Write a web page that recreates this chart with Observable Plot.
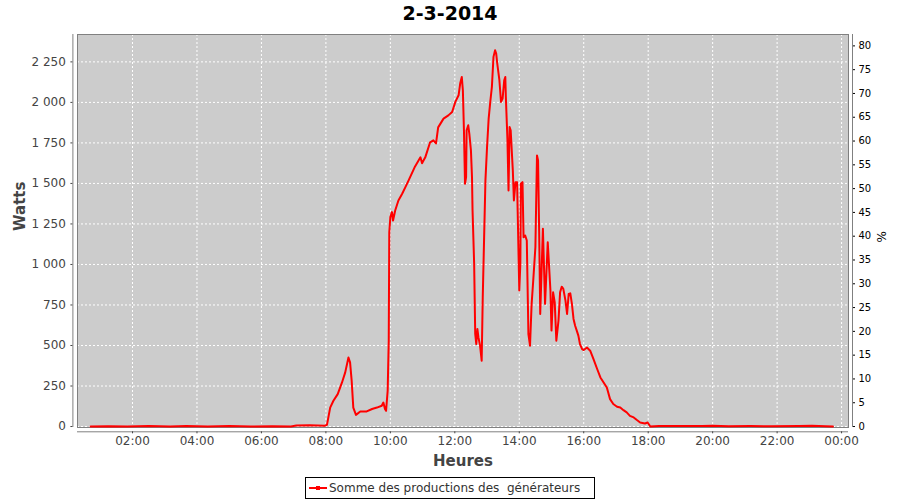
<!DOCTYPE html>
<html>
<head>
<meta charset="utf-8">
<script src="https://cdn.jsdelivr.net/npm/d3@7"></script>
<script src="https://cdn.jsdelivr.net/npm/@observablehq/plot@0.6"></script>
<style>
  body { margin: 0; background: #fff; }
  #wrap { position: relative; width: 900px; height: 500px; font-family: "DejaVu Sans", sans-serif; }
  #title { position: absolute; left: 0; top: 0; width: 900px; text-align: center; font-weight: bold; font-size: 19px; line-height: 26px; color: #000; }
  #legend { position: absolute; left: 305px; top: 477px; width: 288px; height: 20px; border: 1px solid #000; background: #fff; display: flex; align-items: center; font-size: 12px; color: #333; white-space: pre; }
  #legend svg { margin-left: 3px; margin-right: 2px; }
  #chart { position: absolute; left: 0; top: 0; }
</style>
</head>
<body>
<div id="wrap">
  <div id="chart"></div>
  <div id="title"></div>
  <div id="legend"></div>
</div>
<script>
// ---- data ----
const chartTitle = "2-3-2014";
const seriesName = "Somme des productions des  générateurs";
const yLabelText = "Watts";
const xLabelText = "Heures";
const y2LabelText = "%";

const times = [
  "00:42","01:15","01:50","02:30","03:10","03:40","04:20","05:00","05:40","06:20","06:55",
  "07:05","07:30","07:58","08:02","08:08","08:14","08:22","08:30","08:36","08:42","08:45",
  "08:48","08:51","08:56","09:04","09:16","09:26","09:35","09:44","09:47","09:50","09:52",
  "09:55","09:57","09:58","10:00","10:03","10:05","10:09","10:15","10:22","10:28","10:34",
  "10:46","10:56","10:59","11:05","11:14","11:20","11:25","11:29","11:39","11:48","11:55",
  "12:01","12:07","12:10","12:13","12:15","12:17","12:19","12:21","12:22","12:25","12:27",
  "12:30","12:32","12:33","12:36","12:38","12:40","12:42","12:44","12:47","12:50","12:52",
  "12:57","13:00","13:03","13:06","13:09","13:12","13:15","13:17","13:19","13:23","13:26",
  "13:29","13:32","13:34","13:35","13:38","13:40","13:42","13:44","13:48","13:50","13:53",
  "13:56","13:57","14:00","14:02","14:03","14:06","14:08","14:11","14:14","14:17","14:20",
  "14:23","14:26","14:30","14:33","14:35","14:37","14:39","14:44","14:48","14:53","14:58",
  "15:00","15:03","15:06","15:09","15:13","15:16","15:19","15:22","15:26","15:29","15:32",
  "15:35","15:38","15:41","15:44","15:47","15:50","15:53","15:57","16:00","16:06","16:12",
  "16:18","16:25","16:31","16:37","16:43","16:49","16:55","17:02","17:08","17:14","17:20",
  "17:26","17:33","17:39","17:45","17:54","17:59","18:04","18:20","18:45","19:10","19:40",
  "20:00","20:30","21:10","21:50","22:40","23:05","23:30","23:44"
];
const watts = [
  0,2,0,4,0,3,0,3,0,2,0,
  6,8,5,10,117,159,200,272,334,426,396,
  282,117,72,93,93,108,117,128,148,108,97,
  221,530,1199,1292,1323,1271,1333,1395,1436,1477,1519,
  1605,1661,1624,1661,1754,1766,1747,1846,1900,1920,1941,
  2003,2044,2116,2157,2075,1828,1498,1539,1828,1859,1807,
  1704,1539,1334,1004,571,509,602,550,499,406,797,
  1519,1724,1900,2003,2095,2281,2322,2302,2240,2137,2003,
  2024,2137,2157,2034,1766,1457,1848,1828,1580,1395,1508,
  1508,1333,839,1004,1498,1508,1168,1179,1148,571,499,
  757,901,1106,1673,1642,1210,695,1220,757,1137,839,
  592,828,766,530,653,828,863,849,777,695,818,
  822,757,664,622,592,561,509,478,472,488,468,
  417,355,303,272,241,169,139,122,117,101,87,
  66,56,40,25,19,25,0,4,3,4,3,
  5,2,3,2,3,5,2,0
];

const xTicks = [2,4,6,8,10,12,14,16,18,20,22,24];
const xTickLabels = ["02:00","04:00","06:00","08:00","10:00","12:00","14:00","16:00","18:00","20:00","22:00","00:00"];
const yTicks = [0,250,500,750,1000,1250,1500,1750,2000,2250];
const yTickLabels = ["0","250","500","750","1 000","1 250","1 500","1 750","2 000","2 250"];
const pctTicks = [0,5,10,15,20,25,30,35,40,45,50,55,60,65,70,75,80];
const wattsPerPercent = 29.36;

// ---- build table ----
const data = times.map((t, i) => {
  const [hh, mm] = t.split(":").map(Number);
  return { h: hh + mm / 60, w: watts[i] };
});
const xDomain = [0.293, 24.215];
const yDomain = [-6, 2419];

const chart = Plot.plot({
  width: 900,
  height: 500,
  marginTop: 34,
  marginBottom: 73,
  marginLeft: 77,
  marginRight: 52,
  x: { domain: xDomain },
  y: { domain: yDomain },
  style: { fontFamily: "DejaVu Sans, sans-serif", background: "transparent", overflow: "visible" },
  marks: [
    Plot.frame({ fill: "#cccccc" }),
    Plot.gridX(xTicks, { stroke: "#ffffff", strokeOpacity: 1, strokeDasharray: "2,2", strokeWidth: 1 }),
    Plot.gridY(yTicks, { stroke: "#ffffff", strokeOpacity: 1, strokeDasharray: "2,2", strokeWidth: 1 }),
    Plot.frame({ stroke: "#808080" }),
    Plot.line(data, { x: "h", y: "w", stroke: "#ff0000", strokeWidth: 2 }),
    // axis lines (offset from plot area)
    Plot.ruleX([xDomain[0]], { dx: -4.6, stroke: "#808080" }),
    Plot.ruleX([xDomain[1]], { dx: 4, stroke: "#808080" }),
    Plot.ruleY([yDomain[0]], { dy: 4.3, stroke: "#808080" }),
    Plot.axisX(xTicks, {
      anchor: "bottom", dy: 4.3, tickSize: 2, tickPadding: 3, fontSize: 12, color: "#444",
      tickFormat: d => xTickLabels[xTicks.indexOf(d)], label: null
    }),
    Plot.axisY(yTicks, {
      anchor: "left", dx: -4.6, tickSize: 2, tickPadding: 5, fontSize: 12, color: "#444",
      tickFormat: d => yTickLabels[yTicks.indexOf(d)], label: null
    }),
    Plot.axisY(pctTicks.map(p => p * wattsPerPercent), {
      anchor: "right", dx: 4, tickSize: 2, tickPadding: 4, fontSize: 10, color: "#000",
      tickFormat: d => String(Math.round(d / wattsPerPercent)), label: null
    }),
    Plot.text([yLabelText], { frameAnchor: "left", dx: -57, rotate: -90, fontSize: 15, fontWeight: "bold", fill: "#444" }),
    Plot.text([xLabelText], { frameAnchor: "bottom", dy: 38, fontSize: 15, fontWeight: "bold", fill: "#444" }),
    Plot.text([y2LabelText], { frameAnchor: "right", dx: 34, rotate: -90, fontSize: 12, fill: "#000" })
  ]
});
document.getElementById("chart").appendChild(chart);
document.getElementById("title").textContent = chartTitle;
const legend = document.getElementById("legend");
legend.innerHTML = '<svg width="18" height="8"><line x1="0" y1="4" x2="18" y2="4" stroke="#ff0000" stroke-width="2"/><rect x="7" y="2" width="4" height="4" fill="#ff0000"/></svg>';
legend.appendChild(document.createTextNode(seriesName));
</script>
</body>
</html>
